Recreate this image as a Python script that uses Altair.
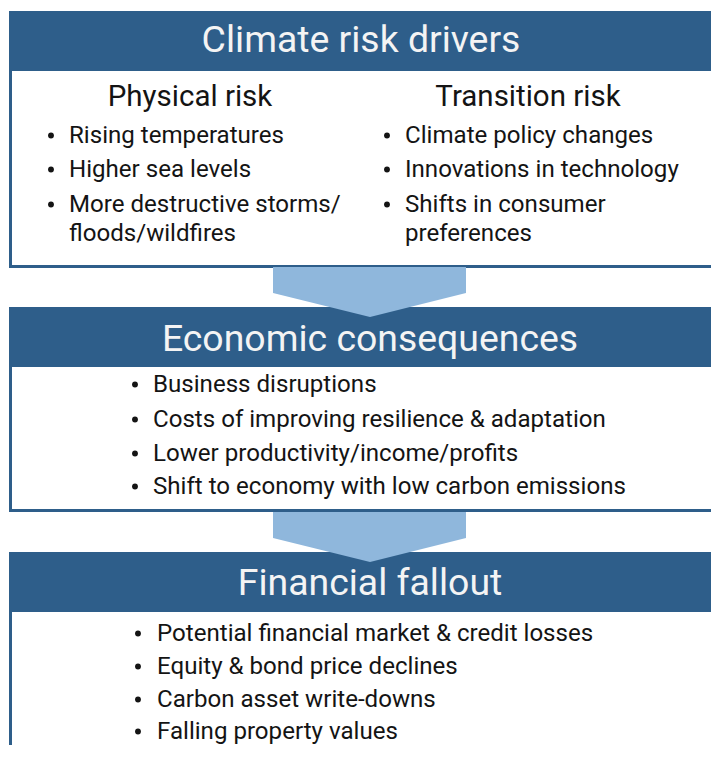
import altair as alt
import pandas as pd

# ---- content ----
titles = ["Climate risk drivers", "Economic consequences", "Financial fallout"]
subheads = ["Physical risk", "Transition risk"]
physical = ["Rising temperatures", "Higher sea levels", "More destructive storms/", "floods/wildfires"]
physical_bullet = [True, True, True, False]
transition = ["Climate policy changes", "Innovations in technology", "Shifts in consumer", "preferences"]
transition_bullet = [True, True, True, False]
economic = ["Business disruptions", "Costs of improving resilience & adaptation",
            "Lower productivity/income/profits", "Shift to economy with low carbon emissions"]
financial = ["Potential financial market & credit losses", "Equity & bond price declines",
             "Carbon asset write-downs", "Falling property values"]

# ---- layout (pixel coordinates of the page) ----
BLUE = "#2E5E8A"
ARROW = "#8FB7DC"
TEXT = "#141414"
FONT = "Roboto"
X_RIGHT = 760
MARGIN = 8
W = 703
H = 737

header_top = [11, 307, 552]
header_h = 60
body_bottom = [268, 512, 790]
border = 3
title_x = [361, 370, 370]
title_y = [52, 351, 595]

sub_x = [190, 528]
sub_y = 106
col_bullet_x = [51, 387]
col_text_x = [69, 405]
col_y = [143, 177, 212, 241]

econ_bullet_x, econ_text_x = 135, 153
econ_y = [392, 427, 461, 494]
fin_bullet_x, fin_text_x = 138, 157
fin_y = [641, 674, 707, 739]

arrow_left, arrow_right, arrow_tip_x = 273, 466, 370
arrow_tops = [267, 512]
arrow_shoulder, arrow_tip = 26, 50

xs = alt.Scale(domain=[MARGIN, MARGIN + W], nice=False, zero=False)
ys = alt.Scale(domain=[MARGIN, MARGIN + H], nice=False, zero=False, reverse=True)

# rectangles
rects = []
for i in range(3):
    t = header_top[i]
    rects.append(dict(x=9, x2=X_RIGHT, y=t, y2=body_bottom[i], c="blue", o=0))
    rects.append(dict(x=9 + border, x2=X_RIGHT, y=t + header_h,
                      y2=body_bottom[i] - border, c="white", o=1))
    rects.append(dict(x=9, x2=X_RIGHT, y=t, y2=t + header_h, c="blue", o=2))
rect_df = pd.DataFrame(rects)
rect_layer = alt.Chart(rect_df).mark_rect(clip=False).encode(
    x=alt.X("x:Q", scale=xs, axis=None), x2="x2:Q",
    y=alt.Y("y:Q", scale=ys, axis=None), y2="y2:Q",
    color=alt.Color("c:N", scale=alt.Scale(domain=["blue", "white"], range=[BLUE, "#ffffff"]), legend=None),
    order=alt.Order("o:Q"),
)

# arrows
arrow_layers = []
for top in arrow_tops:
    adf = pd.DataFrame({
        "x": [arrow_left, arrow_tip_x, arrow_right],
        "y": [top, top, top],
        "y2": [top + arrow_shoulder, top + arrow_tip, top + arrow_shoulder],
    })
    arrow_layers.append(alt.Chart(adf).mark_area(color=ARROW, opacity=1, interpolate="linear").encode(
        x=alt.X("x:Q", scale=xs, axis=None),
        y=alt.Y("y:Q", scale=ys, axis=None), y2="y2:Q",
    ))

enc = dict(x=alt.X("x:Q", scale=xs, axis=None), y=alt.Y("y:Q", scale=ys, axis=None))

# titles
title_df = pd.DataFrame({"t": titles, "x": title_x, "y": title_y})
title_layer = alt.Chart(title_df).mark_text(
    font=FONT, fontSize=37.4, color="#F4F4F4", align="center", baseline="alphabetic"
).encode(text="t:N", **enc)

sub_df = pd.DataFrame({"t": subheads, "x": sub_x, "y": [sub_y, sub_y]})
sub_layer = alt.Chart(sub_df).mark_text(
    font=FONT, fontSize=29.5, color=TEXT, align="center", baseline="alphabetic"
).encode(text="t:N", **enc)

rows = []
bullets = []
for col, (items, flags) in enumerate([(physical, physical_bullet), (transition, transition_bullet)]):
    for j, (s, f) in enumerate(zip(items, flags)):
        rows.append(dict(t=s, x=col_text_x[col], y=col_y[j]))
        if f:
            bullets.append(dict(x=col_bullet_x[col], y=col_y[j] - 7.5))
for j, s in enumerate(economic):
    rows.append(dict(t=s, x=econ_text_x, y=econ_y[j]))
    bullets.append(dict(x=econ_bullet_x, y=econ_y[j] - 7.5))
for j, s in enumerate(financial):
    rows.append(dict(t=s, x=fin_text_x, y=fin_y[j]))
    bullets.append(dict(x=fin_bullet_x, y=fin_y[j] - 7.5))

item_layer = alt.Chart(pd.DataFrame(rows)).mark_text(
    font=FONT, fontSize=24.1, color=TEXT, align="left", baseline="alphabetic"
).encode(text="t:N", **enc)

bullet_layer = alt.Chart(pd.DataFrame(bullets)).mark_circle(
    color=TEXT, opacity=1, size=34
).encode(**enc)

chart = alt.layer(rect_layer, *arrow_layers, title_layer, sub_layer, item_layer, bullet_layer).properties(
    width=W, height=H, padding=0, autosize=alt.AutoSizeParams(type="none"),
    background="white",
).configure_view(stroke=None)

chart.save("out.html", embed_options={"renderer": "svg", "actions": False})
